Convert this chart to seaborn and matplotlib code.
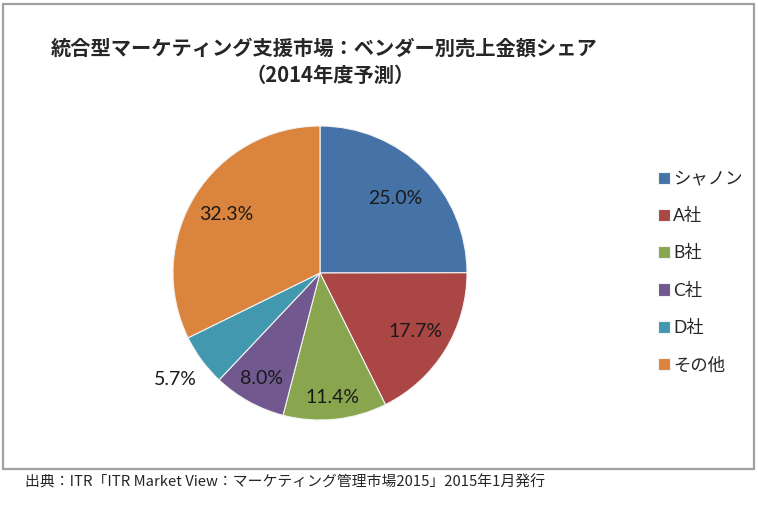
import matplotlib.pyplot as plt
import numpy as np
import seaborn as sns
from matplotlib.patches import Rectangle

# data
vendors = ['シャノン', 'A社', 'B社', 'C社', 'D社', 'その他']
shares = [25.0, 17.7, 11.4, 8.0, 5.7, 32.3]
share_labels = ['25.0%', '17.7%', '11.4%', '8.0%', '5.7%', '32.3%']
label_dist = [0.72, 0.76, 0.85, 0.82, 1.22, 0.75]
colors = ['#4572A7', '#AA4643', '#89A54E', '#71588F', '#4198AF', '#DB843D']

title1 = '統合型マーケティング支援市場：ベンダー別売上金額シェア'
title2 = '（2014年度予測）'
source = '出典：ITR「ITR Market View：マーケティング管理市場2015」2015年1月発行'

sns.set_style("white")
plt.rcParams['font.family'] = ['Lato', 'Noto Sans CJK JP', 'DejaVu Sans']
palette = sns.color_palette(colors)

W, H = 758, 517
fig = plt.figure(figsize=(W / 100, H / 100), dpi=100)

# chart frame
fig.patches.append(Rectangle((3 / W, 1 - 469 / H), 751 / W, 465 / H,
                             transform=fig.transFigure, fill=False,
                             edgecolor='#A0A0A0', linewidth=1.6))

# pie: centre (320, 273), radius 147 px
cx, cy, r = 320, 273, 147
ax = fig.add_axes([(cx - r) / W, 1 - (cy + r) / H, 2 * r / W, 2 * r / H])
wedges, _ = ax.pie(shares, colors=palette, startangle=90, counterclock=False,
                   wedgeprops=dict(edgecolor='#F2F2F2', linewidth=0.8))
ax.set_xlim(-1, 1)
ax.set_ylim(-1, 1)
ax.set_aspect('equal')
ax.axis('off')

for w, lab, d in zip(wedges, share_labels, label_dist):
    mid = np.deg2rad((w.theta1 + w.theta2) / 2)
    ax.text(d * np.cos(mid), d * np.sin(mid), lab, ha='center', va='center',
            fontsize=14, color='#1a1a1a', family=['Lato', 'DejaVu Sans'])

# title
fig.text(324 / W, 1 - 48 / H, title1, ha='center', va='center', fontsize=14.6,
         fontweight='bold', family=['Noto Sans CJK JP'])
fig.text(330 / W, 1 - 75 / H, title2, ha='center', va='center', fontsize=14.6,
         fontweight='bold', family=['Noto Sans CJK JP'])

# legend
fig.legend(wedges, vendors, loc='upper left',
           bbox_to_anchor=(649 / W, 1 - 162 / H), frameon=False,
           fontsize=12.5, handlelength=0.7, handleheight=0.7,
           handletextpad=0.2, labelspacing=1.22, borderpad=0)

# source note
fig.text(25 / W, 1 - 482 / H, source, ha='left', va='center', fontsize=10.7,
         family=['Noto Sans CJK JP'])

plt.savefig('out.png', dpi=100)
